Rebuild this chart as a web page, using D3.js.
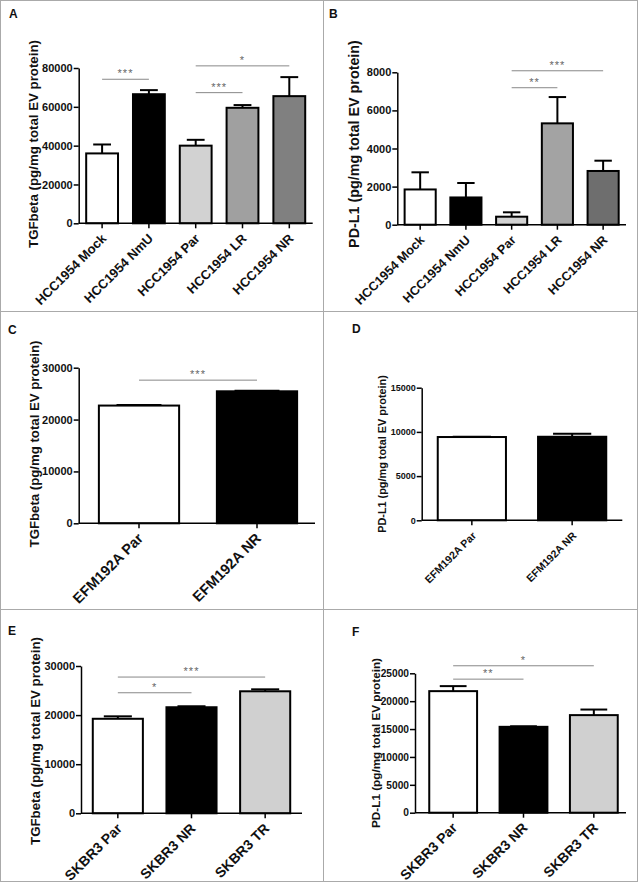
<!DOCTYPE html>
<html><head><meta charset="utf-8">
<script src="https://cdn.jsdelivr.net/npm/d3@7"></script>
<style>
html,body{margin:0;padding:0;background:#fff;}
svg{display:block;font-family:"Liberation Sans",Arial,sans-serif;}
</style></head>
<body>
<svg id="fig" width="640" height="883"></svg>
<script>
// ---------- DATA ----------
const hccCats = ["HCC1954 Mock","HCC1954 NmU","HCC1954 Par","HCC1954 LR","HCC1954 NR"];
const efmCats = ["EFM192A Par","EFM192A NR"];
const skbrCats = ["SKBR3 Par","SKBR3 NR","SKBR3 TR"];

const aMean = [36000, 66500, 40000, 59500, 65500];
const aSem  = [4600, 2100, 3000, 1400, 9800];
const aTicks = [0, 20000, 40000, 60000, 80000];
const aTickLabels = ["0","20000","40000","60000","80000"];
const aSig = [[0,1,"***",74200],[2,3,"***",67300],[2,4,"*",81100]];

const bMean = [1850, 1430, 420, 5320, 2820];
const bSem  = [900, 760, 230, 1380, 540];
const bTicks = [0, 2000, 4000, 6000, 8000];
const bTickLabels = ["0","2000","4000","6000","8000"];
const bSig = [[2,4,"***",8080],[2,3,"**",7190]];

const cMean = [22700, 25450];
const cSem  = [100, 100];
const cTicks = [0, 10000, 20000, 30000];
const cTickLabels = ["0","10000","20000","30000"];
const cSig = [[0,1,"***",27600]];

const dMean = [9420, 9450];
const dSem  = [40, 330];
const dTicks = [0, 5000, 10000, 15000];
const dTickLabels = ["0","5000","10000","15000"];
const dSig = [];

const eMean = [19250, 21600, 24850];
const eSem  = [500, 200, 400];
const eTicks = [0, 10000, 20000, 30000];
const eTickLabels = ["0","10000","20000","30000"];
const eSig = [[0,2,"***",27750],[0,1,"*",24550]];

const fMean = [21800, 15400, 17500];
const fSem  = [900, 100, 1000];
const fTicks = [0, 5000, 10000, 15000, 20000, 25000];
const fTickLabels = ["0","5000","10000","15000","20000","25000"];
const fSig = [[0,2,"*",26350],[0,1,"**",23950]];

const tgfLabel = "TGFbeta (pg/mg total EV protein)";
const pdl1Label = "PD-L1 (pg/mg total EV protein)";

// ---------- LAYOUT / STYLE ----------
const panels = [
  {letter:"A", cats:hccCats, mean:aMean, sem:aSem, ticks:aTicks, tl:aTickLabels, sig:aSig, ylab:tgfLabel,
   fills:["#ffffff","#000000","#d2d2d2","#a0a0a0","#808080"],
   ax0:78.7, ax1:312.7, bx0:78.7, bx1:312.7, y0:223.3, y1:68,
   lx:9, ly:18, ycx:33, ycy:144, ylen:208, tf:11, xf:13},
  {letter:"B", cats:hccCats, mean:bMean, sem:bSem, ticks:bTicks, tl:bTickLabels, sig:bSig, ylab:pdl1Label,
   fills:["#ffffff","#000000","#d2d2d2","#a3a3a3","#6e6e6e"],
   ax0:397.3, ax1:626, bx0:397.3, bx1:626, y0:224.7, y1:72.3,
   lx:329, ly:18, ycx:354, ycy:144, ylen:208, tf:11, xf:12.7},
  {letter:"C", cats:efmCats, mean:cMean, sem:cSem, ticks:cTicks, tl:cTickLabels, sig:cSig, ylab:tgfLabel,
   fills:["#ffffff","#000000"],
   ax0:78.7, ax1:315, bx0:80, bx1:316, y0:523.3, y1:367.7,
   lx:8, ly:334, ycx:34, ycy:444, ylen:207, tf:11, xf:14.5},
  {letter:"D", cats:efmCats, mean:dMean, sem:dSem, ticks:dTicks, tl:dTickLabels, sig:dSig, ylab:pdl1Label,
   fills:["#ffffff","#000000"],
   ax0:421.7, ax1:622.3, bx0:421.7, bx1:622.3, y0:520.3, y1:387.7,
   lx:352, ly:333, ycx:382, ycy:454, ylen:158, tf:9, xf:10.6},
  {letter:"E", cats:skbrCats, mean:eMean, sem:eSem, ticks:eTicks, tl:eTickLabels, sig:eSig, ylab:tgfLabel,
   fills:["#ffffff","#000000","#d0d0d0"],
   ax0:81, ax1:302, bx0:81, bx1:302, y0:813.3, y1:666,
   lx:8, ly:635, ycx:35, ycy:741, ylen:208, tf:11, xf:14},
  {letter:"F", cats:skbrCats, mean:fMean, sem:fSem, ticks:fTicks, tl:fTickLabels, sig:fSig, ylab:pdl1Label,
   fills:["#ffffff","#000000","#d0d0d0"],
   ax0:415, ax1:626, bx0:418, bx1:629, y0:812.7, y1:673.3,
   lx:352, ly:636, ycx:376, ycy:743, ylen:170, tf:10.2, xf:14}
];

const svg = d3.select("#fig");
svg.append("rect").attr("width",640).attr("height",883).attr("fill","#fff");

// panel frame
const frame = svg.append("g").attr("stroke","#aaaaaa").attr("stroke-width",1).attr("fill","none");
frame.append("rect").attr("x",0.5).attr("y",0.5).attr("width",637).attr("height",881);
frame.append("line").attr("x1",323.5).attr("x2",323.5).attr("y1",0.5).attr("y2",881.5);
frame.append("line").attr("x1",0.5).attr("x2",637.5).attr("y1",311.5).attr("y2",311.5);
frame.append("line").attr("x1",0.5).attr("x2",637.5).attr("y1",609.5).attr("y2",609.5);

panels.forEach(p => {
  const g = svg.append("g");
  const ymax = p.ticks[p.ticks.length-1];
  const y = d3.scaleLinear().domain([0, ymax]).range([p.y0, p.y1]);
  const x = d3.scaleBand().domain(p.cats).range([p.bx0, p.bx1]).paddingInner(0.32).paddingOuter(0.16);
  const bw = x.bandwidth();

  // letter
  g.append("text").attr("x",p.lx).attr("y",p.ly).attr("font-size",12).attr("font-weight","bold")
    .attr("fill","#111").text(p.letter);

  // bars
  g.selectAll("rect.bar").data(p.cats).enter().append("rect")
    .attr("x", d => x(d)).attr("width", bw)
    .attr("y", (d,i) => y(p.mean[i])).attr("height", (d,i) => p.y0 - y(p.mean[i]))
    .attr("fill", (d,i) => p.fills[i]).attr("stroke","#000").attr("stroke-width",2);

  // error bars (upper)
  p.cats.forEach((c,i) => {
    const cx = x(c) + bw/2;
    const yt = y(p.mean[i] + p.sem[i]);
    g.append("line").attr("x1",cx).attr("x2",cx).attr("y1",y(p.mean[i])).attr("y2",yt)
      .attr("stroke","#000").attr("stroke-width",2);
    g.append("line").attr("x1",cx - bw*0.28).attr("x2",cx + bw*0.28).attr("y1",yt).attr("y2",yt)
      .attr("stroke","#000").attr("stroke-width",2);
  });

  // y axis
  const ya = g.append("g").attr("transform",`translate(${p.ax0},0)`)
    .call(d3.axisLeft(y).tickValues(p.ticks).tickFormat((d,i) => p.tl[i]).tickSize(5).tickPadding(1).tickSizeOuter(0));
  ya.select(".domain").attr("stroke","#000").attr("stroke-width",1.5);
  ya.selectAll(".tick line").attr("stroke","#000").attr("stroke-width",1.5);
  ya.selectAll(".tick text").attr("font-size",p.tf).attr("font-weight","bold").attr("fill","#111")
    .attr("font-family","Liberation Sans, Arial, sans-serif");

  // x axis
  const xa = g.append("g").attr("transform",`translate(0,${p.y0})`)
    .call(d3.axisBottom(x).tickSize(5).tickSizeOuter(0).tickFormat(""));
  xa.select(".domain").remove();
  xa.selectAll(".tick line").attr("stroke","#000").attr("stroke-width",1.5);
  g.append("line").attr("x1",p.ax0).attr("x2",p.ax1).attr("y1",p.y0).attr("y2",p.y0)
    .attr("stroke","#000").attr("stroke-width",1.5);

  // x labels rotated
  p.cats.forEach(c => {
    const cx = x(c) + bw/2;
    g.append("text").attr("transform",`translate(${cx+5},${p.y0+16}) rotate(-45)`)
      .attr("text-anchor","end").attr("font-size",p.xf).attr("font-weight","bold").attr("fill","#111")
      .text(c);
  });

  // y label, fitted to measured length
  const yl = g.append("text").attr("transform",`translate(${p.ycx},${p.ycy}) rotate(-90)`)
    .attr("text-anchor","middle").attr("dy","0.35em").attr("font-size",10).attr("font-weight","bold")
    .attr("fill","#111").text(p.ylab);
  const len = yl.node().getComputedTextLength();
  yl.attr("font-size", 10 * p.ylen / len);

  // significance
  p.sig.forEach(s => {
    const xa1 = x(p.cats[s[0]]) + bw/2, xb1 = x(p.cats[s[1]]) + bw/2, ys = y(s[3]);
    g.append("line").attr("x1",xa1).attr("x2",xb1).attr("y1",ys).attr("y2",ys)
      .attr("stroke","#888").attr("stroke-width",1);
    g.append("text").attr("x",(xa1+xb1)/2).attr("y",ys-2).attr("text-anchor","middle")
      .attr("font-size",11).attr("letter-spacing",1).attr("fill","#666").text(s[2]);
  });
});
</script>
</body></html>
